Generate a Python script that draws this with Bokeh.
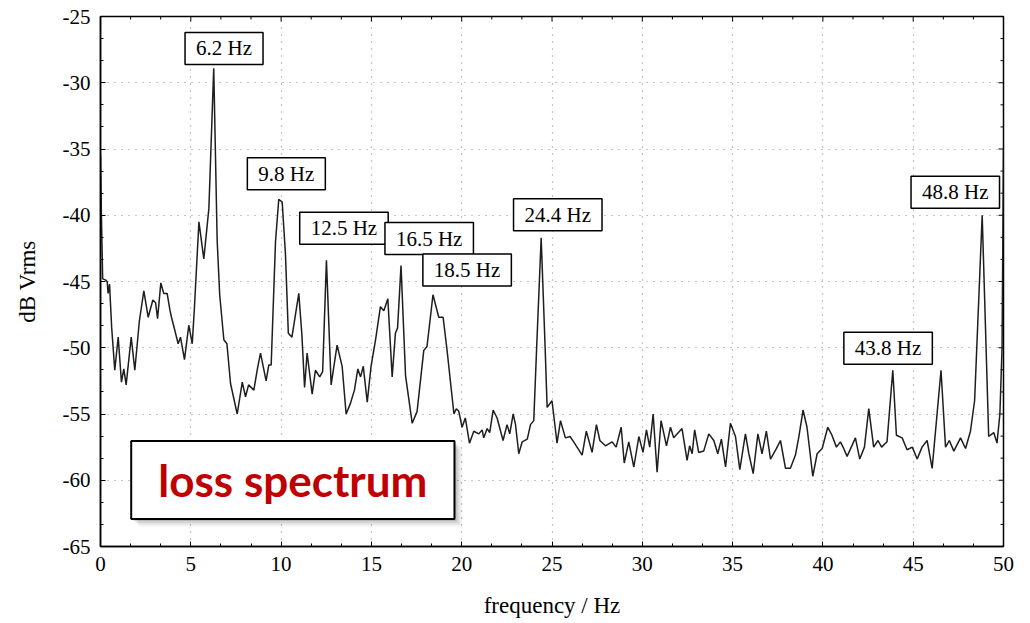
from bokeh.plotting import figure
from bokeh.models import Label, BoxAnnotation, Range1d, SingleIntervalTicker
from bokeh.embed import file_html
from bokeh.resources import INLINE

# ---- data (frequency in Hz, level in dB Vrms) ----
freq = [0.00, 0.05, 0.12, 0.30, 0.37, 0.42, 0.50, 0.62, 0.79, 0.98, 1.16, 1.29, 1.42, 1.70, 1.90,
        2.15, 2.40, 2.64, 2.90, 3.05, 3.16, 3.34, 3.50, 3.69, 3.85, 3.93, 4.10, 4.30, 4.43, 4.65,
        4.89, 5.08, 5.20, 5.45, 5.72, 6.00, 6.27, 6.46, 6.60, 6.83, 7.00, 7.20, 7.57, 7.85, 8.03,
        8.20, 8.49, 8.70, 8.86, 9.17, 9.32, 9.45, 9.69, 9.87, 10.06, 10.24, 10.40, 10.60, 10.98,
        11.15, 11.30, 11.44, 11.72, 11.90, 12.14, 12.30, 12.51, 12.77, 13.10, 13.38, 13.60, 13.84,
        14.06, 14.25, 14.40, 14.55, 14.77, 14.98, 15.23, 15.50, 15.69, 15.91, 16.15, 16.33, 16.45,
        16.64, 16.89, 17.26, 17.53, 17.90, 18.08, 18.41, 18.73, 18.97, 19.19, 19.57, 19.70, 19.84,
        20.02, 20.20, 20.43, 20.67, 20.95, 21.13, 21.22, 21.41, 21.55, 21.74, 21.96, 22.29, 22.51,
        22.66, 22.85, 22.98, 23.16, 23.35, 23.63, 23.81, 23.99, 24.15, 24.40, 24.62, 24.73, 25.00,
        25.28, 25.47, 25.74, 26.00, 26.20, 26.67, 26.90, 27.22, 27.46, 27.65, 27.96, 28.33, 28.55,
        28.83, 29.00, 29.25, 29.53, 29.81, 30.04, 30.23, 30.41, 30.60, 30.82, 31.04, 31.34, 31.56,
        31.74, 32.20, 32.48, 32.62, 32.76, 32.90, 33.12, 33.40, 33.68, 33.96, 34.18, 34.38, 34.61,
        34.88, 35.16, 35.40, 35.71, 35.90, 36.14, 36.40, 36.63, 36.87, 37.10, 37.43, 37.65, 37.93,
        38.20, 38.48, 38.67, 38.90, 39.12, 39.44, 39.68, 39.96, 40.27, 40.50, 40.75, 40.97, 41.15,
        41.34, 41.80, 42.04, 42.30, 42.54, 42.81, 43.05, 43.25, 43.55, 43.87, 44.07, 44.39, 44.66,
        44.95, 45.22, 45.49, 45.77, 46.05, 46.54, 46.79, 47.00, 47.25, 47.62, 47.90, 48.17, 48.40,
        48.82, 49.18, 49.46, 49.64, 49.80, 49.92, 50.00]
level = [-35.5, -40.0, -44.8, -44.9, -45.0, -45.9, -45.2, -48.5, -51.7, -49.2, -52.6, -51.6, -52.8, -49.2, -51.7,
         -48.0, -45.7, -47.7, -46.4, -46.6, -47.8, -45.1, -45.9, -45.9, -47.2, -47.7, -48.6, -49.7, -49.2, -50.9,
         -48.3, -49.7, -47.0, -40.5, -43.3, -39.5, -28.9, -41.9, -46.0, -49.4, -49.7, -52.7, -55.0, -52.6, -53.7,
         -52.8, -53.2, -51.5, -50.4, -52.5, -51.3, -51.3, -42.0, -38.8, -39.0, -42.9, -48.9, -49.2, -45.9,
         -49.0, -53.0, -50.4, -53.5, -51.7, -52.2, -51.8, -43.4, -52.8, -49.8, -51.4, -55.0, -54.2,
         -53.2, -51.6, -52.2, -51.4, -54.1, -51.4, -49.4, -46.9, -47.2, -46.3, -52.2, -48.9, -48.5,
         -43.8, -52.1, -55.7, -54.8, -50.2, -49.9, -46.0, -47.7, -47.7, -50.2, -55.0, -54.6, -54.8,
         -56.0, -55.3, -57.2, -56.3, -56.5, -56.2, -56.8, -56.1, -56.4, -54.7, -55.3, -57.0, -55.8,
         -56.5, -55.0, -55.8, -58.0, -57.1, -56.9, -55.8, -55.5, -50.0, -41.7, -50.0, -54.5, -54.0,
         -57.2, -55.5, -56.8, -56.7, -57.1, -58.1, -56.3, -57.9, -55.8, -57.0, -57.4, -57.1, -57.5,
         -56.0, -58.7, -57.1, -59.0, -56.7, -57.9, -56.2, -57.5, -55.0, -59.4, -55.5, -57.4, -56.0,
         -56.8, -56.1, -58.5, -57.4, -58.0, -56.2, -57.9, -57.8, -56.5, -57.0, -58.0, -56.9, -59.0,
         -55.7, -56.7, -59.2, -56.5, -58.0, -59.5, -56.5, -58.0, -56.3, -58.4, -57.6, -57.0, -59.1,
         -59.1, -58.1, -56.7, -54.7, -56.0, -59.7, -58.0, -57.6, -56.0, -56.6, -57.5, -57.1, -57.6,
         -58.2, -56.8, -58.4, -57.5, -54.6, -57.5, -57.0, -57.5, -57.1, -51.7, -56.6, -56.8, -57.7,
         -57.5, -58.4, -57.5, -57.0, -59.1, -51.7, -57.5, -57.0, -57.8, -56.8, -57.6, -56.3, -54.0,
         -40.0, -56.7, -56.4, -57.2, -55.0, -50.0, -35.0]

peak_labels = ["6.2 Hz", "9.8 Hz", "12.5 Hz", "16.5 Hz", "18.5 Hz", "24.4 Hz", "43.8 Hz", "48.8 Hz"]
label_x = [6.84, 10.29, 13.48, 18.20, 20.30, 25.32, 43.61, 47.33]
label_y = [-27.41, -36.86, -40.99, -41.76, -44.13, -39.97, -50.04, -38.27]

x_tick_values = [0, 5, 10, 15, 20, 25, 30, 35, 40, 45, 50]
x_tick_labels = ["0", "5", "10", "15", "20", "25", "30", "35", "40", "45", "50"]
y_tick_values = [-65, -60, -55, -50, -45, -40, -35, -30, -25]
y_tick_labels = ["-65", "-60", "-55", "-50", "-45", "-40", "-35", "-30", "-25"]

x_title = "frequency / Hz"
y_title = "dB Vrms"
note_text = "loss spectrum"

# ---- figure ----
X0, X1, Y0, Y1 = 0, 50, -65, -25
FRAME_W, FRAME_H = 903, 530
px_x = (X1 - X0) / FRAME_W
px_y = (Y1 - Y0) / FRAME_H

p = figure(width=1030, height=623, x_range=Range1d(X0, X1), y_range=Range1d(Y0, Y1),
           output_backend="svg", toolbar_location=None,
           min_border_left=100, min_border_right=27, min_border_top=16, min_border_bottom=77,
           background_fill_color="white", border_fill_color="white")
p.outline_line_color = "black"
p.outline_line_width = 1.5

serif = "Liberation Serif"

for ax, vals, labs in ((p.xaxis[0], x_tick_values, x_tick_labels),
                       (p.yaxis[0], y_tick_values, y_tick_labels)):
    ax.ticker = SingleIntervalTicker(interval=5, num_minor_ticks=3)
    ax.major_label_overrides = {float(v): s for v, s in zip(vals, labs)}
    ax.axis_line_color = "black"
    ax.axis_line_width = 1.5
    ax.major_tick_in = 5
    ax.major_tick_out = 0
    ax.minor_tick_in = 3
    ax.minor_tick_out = 0
    ax.major_tick_line_color = "black"
    ax.minor_tick_line_color = "black"
    ax.major_label_text_font = serif
    ax.major_label_text_font_size = "21px"
    ax.major_label_text_color = "black"
    ax.major_label_standoff = 10
    ax.axis_label_text_font = serif
    ax.axis_label_text_font_size = "23px"
    ax.axis_label_text_font_style = "normal"
    ax.axis_label_text_color = "black"

p.xaxis.axis_label = x_title
p.yaxis.axis_label = y_title
p.xaxis.axis_label_standoff = 19
p.yaxis.axis_label_standoff = 20

for g in (p.xgrid[0], p.ygrid[0]):
    g.ticker = SingleIntervalTicker(interval=5)
    g.grid_line_color = "#8c8c8c"
    g.grid_line_dash = "1 6"
    g.grid_line_width = 1.2

# inward ticks on the top and right frame edges
step = 5 / 3
top_x, top_len = [], []
for i in range(31):
    v = X0 + i * step
    top_x.append(v)
    top_len.append(5 if i % 3 == 0 else 3)
p.segment(x0=top_x, y0=[Y1] * len(top_x), x1=top_x,
          y1=[Y1 - L * px_y for L in top_len], line_color="black", line_width=1)
right_y, right_len = [], []
for i in range(25):
    v = Y0 + i * step
    right_y.append(v)
    right_len.append(5 if i % 3 == 0 else 3)
p.segment(x0=[X1] * len(right_y), y0=right_y, x1=[X1 - L * px_x for L in right_len],
          y1=right_y, line_color="black", line_width=1)

# spectrum curve
p.line(freq, level, line_color="#1e1e1e", line_width=1.5)

# peak labels
for t, lx, ly in zip(peak_labels, label_x, label_y):
    p.add_layout(Label(x=lx, y=ly, text=t, text_align="center", text_baseline="middle",
                       text_font=serif, text_font_size="21px", text_color="black",
                       background_fill_color="white", border_line_color="black",
                       border_line_width=1.5,
                       padding=dict(left=11, right=11, top=4, bottom=4)))

# "loss spectrum" box with soft shadow
bl, br, bt, bb = 1.7, 19.6, -57.03, -62.93
for k, a in [(8, 0.04), (6, 0.06), (4, 0.09), (2, 0.12)]:
    p.add_layout(BoxAnnotation(left=bl + k * px_x, right=br + k * px_x,
                               top=bt - k * px_y, bottom=bb - k * px_y,
                               fill_color="black", fill_alpha=a, line_color=None))
p.add_layout(BoxAnnotation(left=bl, right=br, top=bt, bottom=bb,
                           fill_color="white", fill_alpha=1.0,
                           line_color="black", line_alpha=1.0, line_width=2))
p.add_layout(Label(x=(bl + br) / 2, y=(bt + bb) / 2, text=note_text,
                   text_align="center", text_baseline="middle",
                   text_font="Lato", text_font_style="bold", text_font_size="44px",
                   text_color="#C00000"))

open("out.html", "w").write(file_html(p, INLINE))
